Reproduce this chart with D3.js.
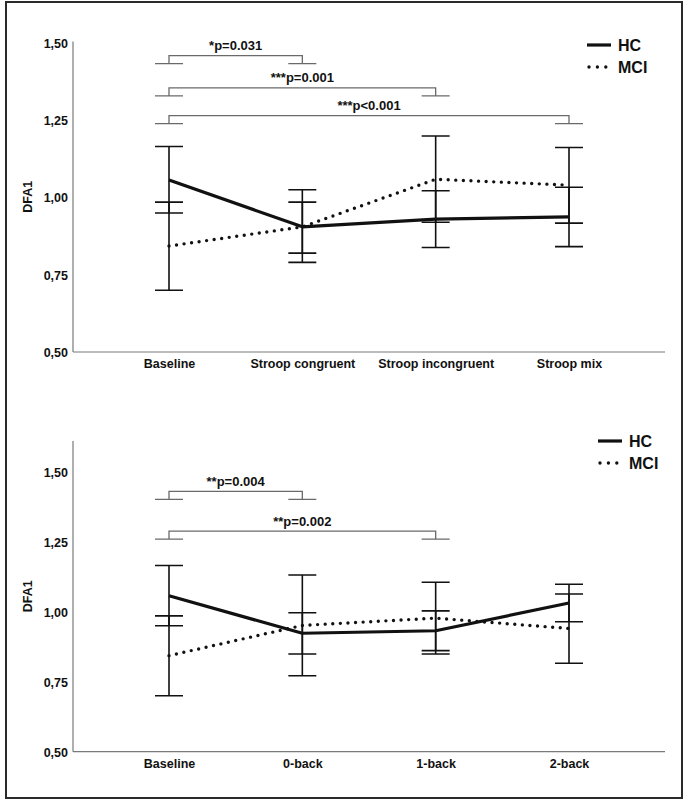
<!DOCTYPE html>
<html>
<head>
<meta charset="utf-8">
<script src="https://cdn.jsdelivr.net/npm/d3@7"></script>
<style>
  html, body { margin: 0; padding: 0; background: #fff; }
  svg { display: block; }
  text { font-family: "Liberation Sans", Arial, sans-serif; font-weight: bold; fill: #111; }
</style>
</head>
<body>
<svg id="chart" width="689" height="800"></svg>
<script>
// ---------- data ----------
const yTickValues = [0.5, 0.75, 1.0, 1.25, 1.5];
const seriesNames = ["HC", "MCI"];

// Top panel (Stroop)
const topCategories = ["Baseline", "Stroop congruent", "Stroop incongruent", "Stroop mix"];
const topHCMean  = [1.057, 0.905, 0.930, 0.937];
const topHCLow   = [0.950, 0.790, 0.838, 0.841];
const topHCHigh  = [1.165, 1.025, 1.022, 1.033];
const topMCIMean = [0.843, 0.905, 1.059, 1.040];
const topMCILow  = [0.700, 0.820, 0.920, 0.917];
const topMCIHigh = [0.985, 0.985, 1.199, 1.162];
const topBrackets = [
  { from: 0, to: 1, level: 1.433, label: "*p=0.031" },
  { from: 0, to: 2, level: 1.329, label: "***p=0.001" },
  { from: 0, to: 3, level: 1.239, label: "***p<0.001" }
];
const topAxisMax = 1.505;

// Bottom panel (n-back)
const botCategories = ["Baseline", "0-back", "1-back", "2-back"];
const botHCMean  = [1.057, 0.923, 0.932, 1.031];
const botHCLow   = [0.950, 0.849, 0.861, 0.964];
const botHCHigh  = [1.165, 0.996, 1.003, 1.098];
const botMCIMean = [0.843, 0.951, 0.977, 0.940];
const botMCILow  = [0.700, 0.771, 0.849, 0.816];
const botMCIHigh = [0.985, 1.131, 1.105, 1.063];
const botBrackets = [
  { from: 0, to: 1, level: 1.401, label: "**p=0.004" },
  { from: 0, to: 2, level: 1.259, label: "**p=0.002" }
];
const botAxisMax = 1.61;

// ---------- drawing ----------
const svg = d3.select("#chart");

// outer frame
svg.append("rect").attr("x", 6).attr("y", 2).attr("width", 676).attr("height", 796)
  .attr("fill", "none").attr("stroke", "#2a2a2a").attr("stroke-width", 2);

const fmt = v => d3.format(".2f")(v).replace(".", ",");

function drawPanel(cfg) {
  const g = svg.append("g");
  const x = d3.scalePoint().domain(cfg.categories).range([cfg.left, cfg.right]).padding(0.72);
  const y = d3.scaleLinear().domain([0.5, 1.5]).range([cfg.bottom, cfg.top]);

  // axes lines
  g.append("line").attr("x1", cfg.left).attr("x2", cfg.left)
    .attr("y1", y(0.5)).attr("y2", y(cfg.axisMax))
    .attr("stroke", "#7a7a7a").attr("stroke-width", 1.2);
  g.append("line").attr("x1", cfg.left).attr("x2", cfg.right)
    .attr("y1", y(0.5)).attr("y2", y(0.5))
    .attr("stroke", "#7a7a7a").attr("stroke-width", 1.2);

  // y axis ticks labels
  const yAxis = d3.axisLeft(y).tickValues(yTickValues).tickSize(0).tickPadding(5).tickFormat(fmt);
  const ya = g.append("g").attr("transform", `translate(${cfg.left},0)`).call(yAxis);
  ya.select(".domain").remove();
  ya.selectAll("text").attr("font-size", "12.5px").attr("font-family", null).attr("fill", "#111")
    .attr("dy", "0.35em");

  // x axis labels
  const xAxis = d3.axisBottom(x).tickSize(0).tickPadding(7);
  const xa = g.append("g").attr("transform", `translate(0,${y(0.5)})`).call(xAxis);
  xa.select(".domain").remove();
  xa.selectAll("text").attr("font-size", "12.5px").attr("font-family", null).attr("fill", "#111");

  // y label
  g.append("text").attr("transform", `translate(${cfg.ylabelX},${(y(0.5) + y(cfg.axisMax)) / 2}) rotate(-90)`)
    .attr("text-anchor", "middle").attr("dy", "0.35em").attr("font-size", "12.5px").text("DFA1");

  // brackets
  const foot = 14, rise = 8;
  cfg.brackets.forEach(b => {
    const x1 = x(cfg.categories[b.from]), x2 = x(cfg.categories[b.to]);
    const yb = y(b.level), yt = yb - rise;
    const path = d3.path();
    path.moveTo(x1 - foot, yb); path.lineTo(x1 + foot, yb);
    path.moveTo(x2 - foot, yb); path.lineTo(x2 + foot, yb);
    path.moveTo(x1, yb); path.lineTo(x1, yt); path.lineTo(x2, yt); path.lineTo(x2, yb);
    g.append("path").attr("d", path.toString()).attr("fill", "none")
      .attr("stroke", "#6a6a6a").attr("stroke-width", 1.3);
    g.append("text").attr("x", (x1 + x2) / 2).attr("y", yt - 5.5)
      .attr("text-anchor", "middle").attr("font-size", "13px").text(b.label);
  });

  // error bars
  const cap = 14;
  const bars = [];
  cfg.categories.forEach((c, i) => {
    bars.push({ c, lo: cfg.hcLow[i], hi: cfg.hcHigh[i] });
    bars.push({ c, lo: cfg.mciLow[i], hi: cfg.mciHigh[i] });
  });
  bars.forEach(b => {
    const cx = x(b.c);
    const p = d3.path();
    p.moveTo(cx, y(b.lo)); p.lineTo(cx, y(b.hi));
    p.moveTo(cx - cap, y(b.lo)); p.lineTo(cx + cap, y(b.lo));
    p.moveTo(cx - cap, y(b.hi)); p.lineTo(cx + cap, y(b.hi));
    g.append("path").attr("d", p.toString()).attr("fill", "none")
      .attr("stroke", "#111").attr("stroke-width", 1.6);
  });

  // lines
  const line = d3.line().x(d => x(d.c)).y(d => y(d.v));
  const mciData = cfg.categories.map((c, i) => ({ c, v: cfg.mciMean[i] }));
  const hcData = cfg.categories.map((c, i) => ({ c, v: cfg.hcMean[i] }));
  g.append("path").datum(mciData).attr("d", line).attr("fill", "none")
    .attr("stroke", "#111").attr("stroke-width", 3.4).attr("stroke-linecap", "round")
    .attr("stroke-dasharray", "0 7.6");
  g.append("path").datum(hcData).attr("d", line).attr("fill", "none")
    .attr("stroke", "#111").attr("stroke-width", 3.2).attr("stroke-linejoin", "round");

  // legend
  const lg = g.append("g").attr("transform", `translate(${cfg.legendX},${cfg.legendY})`);
  seriesNames.forEach((name, i) => {
    const ly = i * 22;
    const l = lg.append("line").attr("x1", 0).attr("x2", 24).attr("y1", ly).attr("y2", ly)
      .attr("stroke", "#111");
    if (i === 0) l.attr("stroke-width", 3.2);
    else l.attr("stroke-width", 3.4).attr("stroke-linecap", "round").attr("stroke-dasharray", "0 8.4")
      .attr("x1", 2).attr("x2", 22);
    lg.append("text").attr("x", 31).attr("y", ly).attr("dy", "0.36em")
      .attr("font-size", "16px").text(name);
  });
}

drawPanel({
  categories: topCategories,
  hcMean: topHCMean, hcLow: topHCLow, hcHigh: topHCHigh,
  mciMean: topMCIMean, mciLow: topMCILow, mciHigh: topMCIHigh,
  brackets: topBrackets, axisMax: topAxisMax,
  left: 73, right: 665, top: 43, bottom: 352,
  ylabelX: 28, legendX: 587, legendY: 45
});

drawPanel({
  categories: botCategories,
  hcMean: botHCMean, hcLow: botHCLow, hcHigh: botHCHigh,
  mciMean: botMCIMean, mciLow: botMCILow, mciHigh: botMCIHigh,
  brackets: botBrackets, axisMax: botAxisMax,
  left: 73, right: 665, top: 471.7, bottom: 751.7,
  ylabelX: 28, legendX: 598, legendY: 441
});
</script>
</body>
</html>
